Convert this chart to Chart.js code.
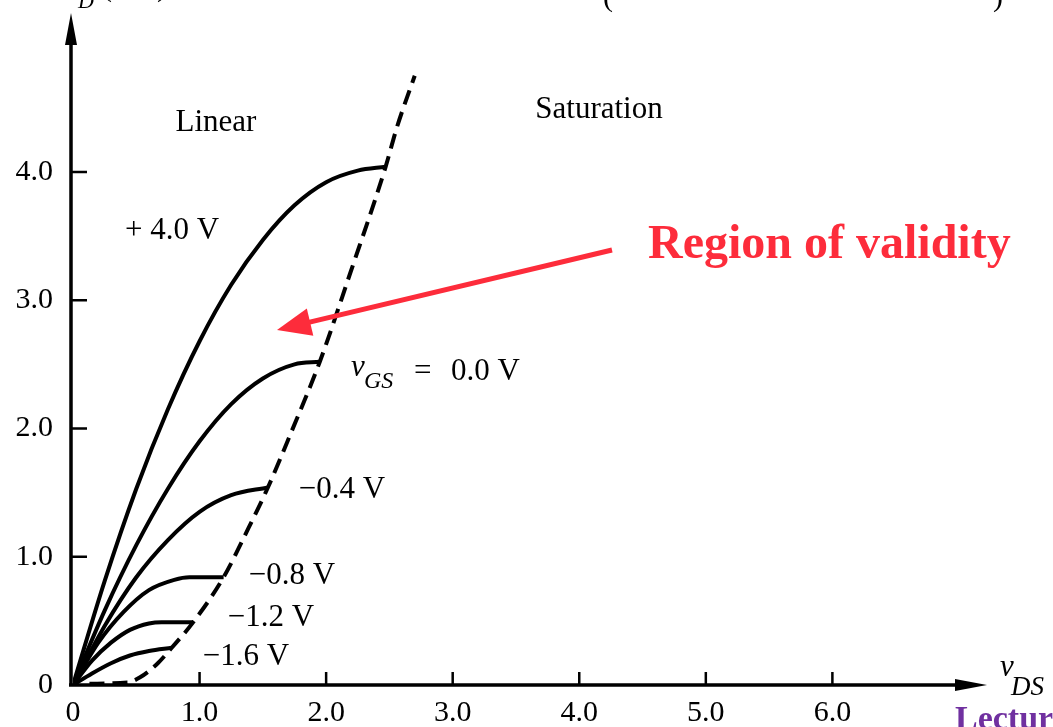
<!DOCTYPE html>
<html>
<head>
<meta charset="utf-8">
<script src="https://cdn.jsdelivr.net/npm/chart.js@4"></script>
<style>
  html, body { margin: 0; padding: 0; background: #fff; }
  canvas { display: block; }
</style>
</head>
<body>
<canvas id="jfetChart" width="1053" height="727"></canvas>
<script>
// tick values and labels
const xTickValues = [0, 1, 2, 3, 4, 5, 6];
const xTickLabels = ['0', '1.0', '2.0', '3.0', '4.0', '5.0', '6.0'];
const yTickValues = [0, 1, 2, 3, 4];
const yTickLabels = ['0', '1.0', '2.0', '3.0', '4.0'];

// drain characteristics (vDS in V, iD in mA)
const vgsPlus4X = [0, 0.25, 0.5, 0.75, 1.0, 1.25, 1.5, 1.75, 2.0, 2.25, 2.47];
const vgsPlus4Y = [0, 0.81, 1.53, 2.15, 2.68, 3.12, 3.47, 3.74, 3.92, 4.01, 4.04];

const vgs0X = [0, 0.25, 0.5, 0.75, 1.0, 1.25, 1.5, 1.75, 1.95];
const vgs0Y = [0, 0.58, 1.09, 1.53, 1.9, 2.19, 2.39, 2.5, 2.52];

const vgsM04X = [0, 0.25, 0.5, 0.75, 1.0, 1.25, 1.54];
const vgsM04Y = [0, 0.46, 0.84, 1.13, 1.35, 1.48, 1.54];

const vgsM08X = [0, 0.2, 0.4, 0.6, 0.8, 0.92, 1.19];
const vgsM08Y = [0, 0.33, 0.57, 0.74, 0.82, 0.84, 0.84];

const vgsM12X = [0, 0.15, 0.3, 0.45, 0.6, 0.7, 0.95];
const vgsM12Y = [0, 0.19, 0.33, 0.43, 0.48, 0.49, 0.49];

const vgsM16X = [0, 0.15, 0.3, 0.45, 0.6, 0.78];
const vgsM16Y = [0, 0.09, 0.17, 0.23, 0.265, 0.29];

// boundary between linear and saturation regions
const boundaryX = [0.13, 0.43, 0.53, 0.67, 0.78, 0.95, 1.19, 1.37, 1.54, 1.72, 1.95, 2.19, 2.47, 2.56, 2.70];
const boundaryY = [0.01, 0.02, 0.06, 0.17, 0.29, 0.49, 0.84, 1.19, 1.54, 1.96, 2.52, 3.21, 4.04, 4.35, 4.75];

const SERIF = '"Liberation Serif", "DejaVu Serif", serif';
const RED = '#fd2c3b';

function pts(xs, ys) {
  return xs.map((x, i) => ({ x: x, y: ys[i] }));
}

function curve(label, xs, ys, dashed) {
  return {
    label: label,
    data: pts(xs, ys),
    borderColor: '#000',
    borderWidth: 4,
    borderDash: dashed ? [15, 8] : [],
    pointRadius: 0,
    showLine: true,
    fill: false,
    cubicInterpolationMode: 'monotone'
  };
}

function arrowHead(ctx, tipX, tipY, angle, len, half) {
  ctx.save();
  ctx.translate(tipX, tipY);
  ctx.rotate(angle);
  ctx.beginPath();
  ctx.moveTo(0, 0);
  ctx.lineTo(-len, -half);
  ctx.lineTo(-len, half);
  ctx.closePath();
  ctx.fill();
  ctx.restore();
}

const decorations = {
  id: 'decorations',
  afterDraw(chart) {
    const ctx = chart.ctx;
    const xs = chart.scales.x;
    const ys = chart.scales.y;
    const x0 = xs.getPixelForValue(0);
    const y0 = ys.getPixelForValue(0);

    ctx.save();
    ctx.strokeStyle = '#000';
    ctx.fillStyle = '#000';
    ctx.lineCap = 'butt';

    // axes
    ctx.lineWidth = 3.5;
    ctx.beginPath();
    ctx.moveTo(x0 - 2, y0 + 1);
    ctx.lineTo(x0 - 2, 40);
    ctx.moveTo(x0 - 4, y0);
    ctx.lineTo(960, y0);
    ctx.stroke();
    arrowHead(ctx, x0 - 2, 13, -Math.PI / 2, 32, 6);
    arrowHead(ctx, 987, y0, 0, 32, 6);

    // tick marks
    ctx.lineWidth = 2.5;
    ctx.beginPath();
    xTickValues.slice(1).forEach(v => {
      const px = xs.getPixelForValue(v);
      ctx.moveTo(px, y0);
      ctx.lineTo(px, y0 - 13);
    });
    yTickValues.slice(1).forEach(v => {
      const py = ys.getPixelForValue(v);
      ctx.moveTo(x0 - 2, py);
      ctx.lineTo(x0 + 14, py);
    });
    ctx.stroke();

    // clipped axis title at the very top
    ctx.textBaseline = 'alphabetic';
    ctx.textAlign = 'left';
    ctx.font = 'italic 30px ' + SERIF;
    ctx.fillText('i', 66, -2);
    ctx.font = 'italic 22px ' + SERIF;
    ctx.fillText('D', 78, 8);
    ctx.font = '30px ' + SERIF;
    ctx.fillText('(mA)', 102, -4);
    ctx.fillText('(', 603, 6);
    ctx.fillText(')', 993, 6);

    // region names and curve labels
    ctx.font = '31px ' + SERIF;
    ctx.textBaseline = 'middle';
    ctx.textAlign = 'center';
    ctx.fillText('Linear', 216, 123);
    ctx.fillText('Saturation', 599, 110);
    ctx.fillText('+ 4.0 V', 172, 231);
    ctx.fillText('\u22120.4 V', 342, 490);
    ctx.fillText('\u22120.8 V', 292, 576);
    ctx.fillText('\u22121.2 V', 271, 618);
    ctx.fillText('\u22121.6 V', 246, 657);

    ctx.textAlign = 'left';
    ctx.font = 'italic 31px ' + SERIF;
    ctx.fillText('v', 351, 368);
    ctx.font = 'italic 24px ' + SERIF;
    ctx.fillText('GS', 364, 382);
    ctx.font = '31px ' + SERIF;
    ctx.fillText('=', 414, 372);
    ctx.fillText('0.0 V', 451, 372);

    // vDS axis name
    ctx.font = 'italic 31px ' + SERIF;
    ctx.fillText('v', 1000, 668);
    ctx.font = 'italic 27px ' + SERIF;
    ctx.fillText('DS', 1011, 688);

    // slide footer fragment
    ctx.fillStyle = '#7030a0';
    ctx.font = 'bold 34px ' + SERIF;
    ctx.textBaseline = 'alphabetic';
    ctx.fillText('Lecture', 955, 729);

    // red call-out
    ctx.fillStyle = RED;
    ctx.strokeStyle = RED;
    ctx.font = 'bold 48px ' + SERIF;
    ctx.fillText('Region of validity', 648, 258);
    const tipX = 277, tipY = 330, tailX = 612, tailY = 250;
    const ang = Math.atan2(tipY - tailY, tipX - tailX);
    ctx.lineWidth = 5;
    ctx.beginPath();
    ctx.moveTo(tailX, tailY);
    ctx.lineTo(tipX - 25 * Math.cos(ang), tipY - 25 * Math.sin(ang));
    ctx.stroke();
    arrowHead(ctx, tipX, tipY, ang, 34, 14);

    ctx.restore();
  }
};

const tickFont = { family: SERIF, size: 30 };

new Chart(document.getElementById('jfetChart'), {
  type: 'scatter',
  data: {
    datasets: [
      curve('+4.0 V', vgsPlus4X, vgsPlus4Y, false),
      curve('0.0 V', vgs0X, vgs0Y, false),
      curve('-0.4 V', vgsM04X, vgsM04Y, false),
      curve('-0.8 V', vgsM08X, vgsM08Y, false),
      curve('-1.2 V', vgsM12X, vgsM12Y, false),
      curve('-1.6 V', vgsM16X, vgsM16Y, false),
      curve('boundary', boundaryX, boundaryY, true)
    ]
  },
  options: {
    responsive: false,
    animation: false,
    layout: { padding: { top: 18, right: 70, left: 0, bottom: 0 } },
    plugins: {
      legend: { display: false },
      tooltip: { enabled: false }
    },
    scales: {
      x: {
        type: 'linear',
        min: 0,
        max: 7.19,
        afterFit: s => { s.height = 42; s.paddingLeft = 0; s.paddingRight = 0; },
        afterBuildTicks: s => { s.ticks = xTickValues.map(v => ({ value: v })); },
        grid: { display: false, drawTicks: false },
        border: { display: false },
        ticks: {
          font: tickFont,
          color: '#000',
          padding: 10,
          maxRotation: 0,
          autoSkip: false,
          callback: (v, i) => xTickLabels[i]
        }
      },
      y: {
        type: 'linear',
        min: 0,
        max: 5.2,
        afterFit: s => { s.width = 73; s.paddingTop = 0; s.paddingBottom = 0; },
        afterBuildTicks: s => { s.ticks = yTickValues.map(v => ({ value: v })); },
        grid: { display: false, drawTicks: false },
        border: { display: false },
        ticks: {
          font: tickFont,
          color: '#000',
          padding: 20,
          autoSkip: false,
          callback: (v, i) => yTickLabels[i]
        }
      }
    }
  },
  plugins: [decorations]
});
</script>
</body>
</html>
